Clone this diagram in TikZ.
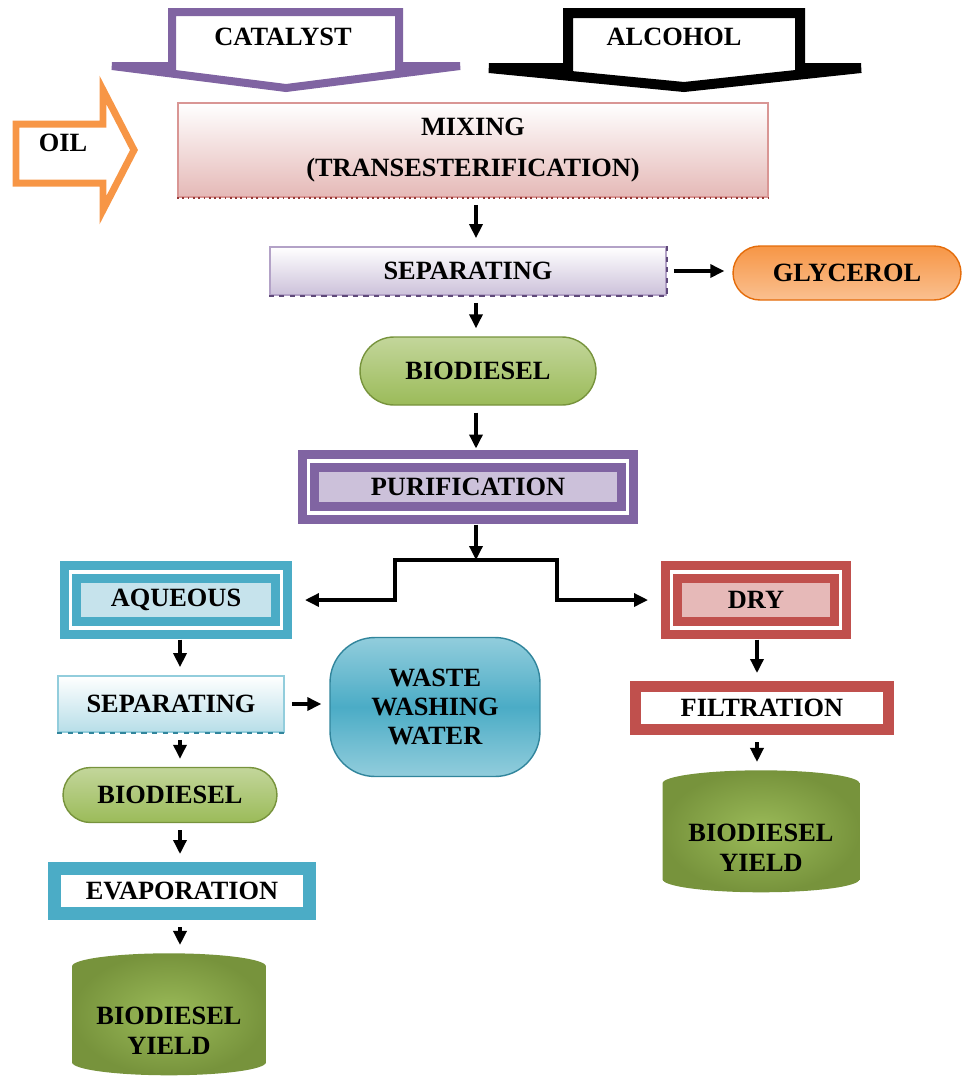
\documentclass[tikz,border=0pt]{standalone}
\usepackage{fontspec}
\setmainfont{Liberation Serif}
\usetikzlibrary{arrows.meta,shapes.misc,shapes.geometric}
\definecolor{violet}{HTML}{8064A2}
\definecolor{lilac}{HTML}{CCC1DA}
\definecolor{lilacline}{HTML}{B3A2C7}
\definecolor{plum}{HTML}{5F497A}
\definecolor{orange}{HTML}{F79646}
\definecolor{lightorange}{HTML}{FAC090}
\definecolor{darkorange}{HTML}{E46C0A}
\definecolor{rose}{HTML}{E5B9B7}
\definecolor{roseline}{HTML}{D99694}
\definecolor{maroon}{HTML}{953735}
\definecolor{leaf}{HTML}{9BBB59}
\definecolor{lightleaf}{HTML}{C3D69B}
\definecolor{olive}{HTML}{77933C}
\definecolor{teal}{HTML}{4BACC6}
\definecolor{lightteal}{HTML}{C6E3EC}
\definecolor{paleteal}{HTML}{B7DEE8}
\definecolor{skyline}{HTML}{92CDDC}
\definecolor{deepteal}{HTML}{31859C}
\definecolor{brick}{HTML}{C0504D}
\definecolor{pink}{HTML}{E6B9B8}
\begin{document}
\begin{tikzpicture}[x=0.02cm,y=-0.02cm,
    font=\fontsize{15}{17}\selectfont\bfseries,
    arr/.style={line width=1.9pt,-{Triangle[length=0.28cm,width=0.26cm]},
      shorten <=0.14cm,shorten >=0.16cm},
    box/.style={rectangle,inner sep=0pt,align=center},
    pill/.style={rounded rectangle,inner sep=0pt,line width=0.8pt},
    framed/.style={box,line width=0.18cm,double=white,double distance=0.07cm},
    drum/.style={cylinder,shape border rotate=90,aspect=0.18,draw=none,
      inner sep=0pt,align=center,shading=radial,inner color=leaf,outer color=olive}]
  \useasboundingbox (0,0) rectangle (964,1083);

  % feed arrows
  \draw[violet,line width=0.16cm,line join=miter]
    (172,12) -- (399,12) -- (399,66) -- (460,66) -- (286,88)
    -- (112,66) -- (172,66) -- cycle;
  \draw[black,line width=0.2cm,line join=miter]
    (568,13) -- (800,13) -- (800,68) -- (861,68) -- (684,87)
    -- (489,68) -- (568,68) -- cycle;
  \draw[orange,line width=0.14cm,line join=miter]
    (16,124) -- (103,124) -- (103,90) -- (134,150) -- (103,210)
    -- (103,183) -- (16,183) -- cycle;
  \node (cat) at (283,37) {CATALYST};
  \node (alc) at (674,37) {ALCOHOL};
  \node (oil) at (63,143) {OIL};

  % main line
  \coordinate (axis) at (476,0);
  \node[box,draw=roseline,line width=1pt,top color=white,bottom color=rose,
    minimum width=11.8cm,minimum height=1.88cm] (mix) at (473,150)
    {MIXING\\[6pt](TRANSESTERIFICATION)};
  \draw[maroon,dotted,line width=1pt] (mix.south west) -- (mix.south east);
  \node[box,draw=lilacline,line width=1pt,top color=white,bottom color=lilac,
    minimum width=7.92cm,minimum height=0.96cm] (sep) at (468,271) {SEPARATING};
  \draw[plum,dashed,line width=0.8pt] (sep.north east) -- (sep.south east) -- (sep.south west);
  \node[pill,draw=darkorange,top color=orange,bottom color=lightorange,
    minimum width=4.56cm,minimum height=1.08cm] (gly) at (847,273) {GLYCEROL};
  \node[pill,draw=olive,top color=lightleaf,bottom color=leaf,
    minimum width=4.72cm,minimum height=1.36cm] (bio) at (478,371) {BIODIESEL};
  \node[framed,draw=violet,fill=lilac,
    minimum width=6.38cm,minimum height=1.04cm] (pur) at (468,487) {PURIFICATION};

  \draw[arr] (mix.south -| axis) -- (sep.north -| axis);
  \draw[arr] (sep.east) -- (sep.east -| gly.west);
  \draw[arr] (sep.south -| axis) -- (bio.north -| axis);
  \draw[arr] (bio.south -| axis) -- (pur.north -| axis);

  % aqueous route
  \coordinate (laxis) at (180,0);
  \node[framed,draw=teal,fill=lightteal,
    minimum width=4.22cm,minimum height=1.12cm] (aq) at (176,600) {AQUEOUS};
  \node[box,draw=skyline,line width=1pt,top color=white,bottom color=paleteal,
    minimum width=4.52cm,minimum height=1.12cm] (sep2) at (171,704) {SEPARATING};
  \draw[deepteal,dashed,line width=0.8pt] (sep2.south west) -- (sep2.south east);
  \node[box,draw=deepteal,line width=0.8pt,rounded corners=0.9cm,
    top color=skyline,bottom color=skyline,middle color=teal,
    font=\fontsize{15}{16.5}\selectfont\bfseries,
    minimum width=4.2cm,minimum height=2.78cm] (waste) at (435,707)
    {WASTE\\WASHING\\WATER};
  \node[pill,draw=olive,top color=lightleaf,bottom color=leaf,
    minimum width=4.28cm,minimum height=1.1cm] (bio2) at (170,795) {BIODIESEL};
  \node[box,draw=teal,line width=0.26cm,fill=white,
    minimum width=5.1cm,minimum height=0.9cm] (evap) at (182,891) {EVAPORATION};
  \node[drum,minimum width=3.88cm,minimum height=2.44cm] (yield) at (169,1021)
    {\rule{0pt}{21pt}BIODIESEL\\YIELD};

  \draw[arr] (aq.south -| laxis) -- (sep2.north -| laxis);
  \draw[arr] (sep2.east) -- (sep2.east -| waste.west);
  \draw[arr] (sep2.south -| laxis) -- (bio2.north -| laxis);
  \draw[arr] (bio2.south -| laxis) -- (evap.north -| laxis);
  \draw[arr] (evap.south -| laxis) -- (yield.north -| laxis);

  % dry route
  \coordinate (raxis) at (757,0);
  \node[framed,draw=brick,fill=pink,
    minimum width=3.38cm,minimum height=1.12cm] (dry) at (756,600) {DRY};
  \node[box,draw=brick,line width=0.22cm,fill=white,
    minimum width=5.08cm,minimum height=0.86cm] (filt) at (762,708) {FILTRATION};
  \node[drum,minimum width=3.94cm,minimum height=2.44cm] (yield2) at (761,838)
    {\rule{0pt}{21pt}BIODIESEL\\YIELD};

  \draw[arr] (dry.south -| raxis) -- (filt.north -| raxis);
  \draw[arr] (filt.south -| raxis) -- (yield2.north -| raxis);

  % split into the two washing routes
  \coordinate (split) at (476,560);
  \coordinate (bl) at (395,560);
  \coordinate (br) at (557,560);
  \draw[arr,shorten >=0pt] (pur.south -| axis) -- (split);
  \draw[arr,shorten <=0pt,shorten >=0.38cm] (split) -- (bl) |- (aq.east);
  \draw[arr,shorten <=0pt,shorten >=0.38cm] (split) -- (br) |- (dry.west);
\end{tikzpicture}
\end{document}
